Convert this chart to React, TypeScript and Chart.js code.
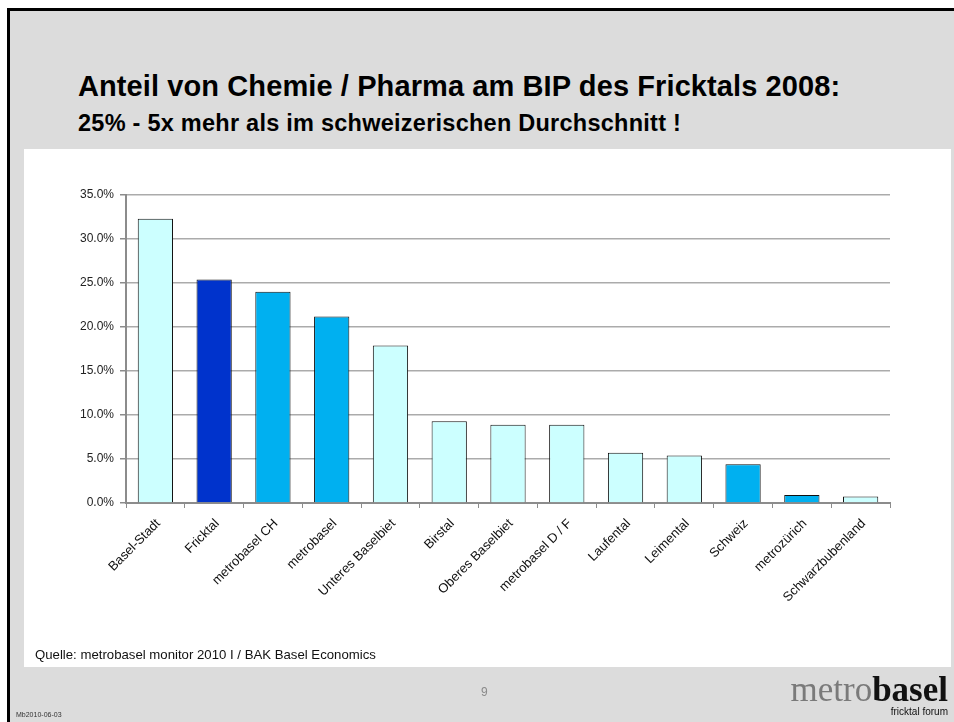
import React, { useEffect, useRef } from "react";
import { Chart, registerables } from "chart.js";

Chart.register(...registerables);

const categories = [
  "Basel-Stadt",
  "Fricktal",
  "metrobasel CH",
  "metrobasel",
  "Unteres Baselbiet",
  "Birstal",
  "Oberes Baselbiet",
  "metrobasel D / F",
  "Laufental",
  "Leimental",
  "Schweiz",
  "metrozürich",
  "Schwarzbubenland",
];
const shareValues = [32.3, 25.4, 24.0, 21.2, 17.9, 9.3, 8.9, 8.9, 5.7, 5.4, 4.4, 0.9, 0.75];
const barColors = [
  "#CCFFFF",
  "#0033CC",
  "#00B0F0",
  "#00B0F0",
  "#CCFFFF",
  "#CCFFFF",
  "#CCFFFF",
  "#CCFFFF",
  "#CCFFFF",
  "#CCFFFF",
  "#00B0F0",
  "#00B0F0",
  "#CCFFFF",
];
const yTickStep = 5;
const yMax = 35;

const titleText = "Anteil von Chemie / Pharma am BIP des Fricktals 2008:";
const subtitleText = "25% - 5x mehr als im schweizerischen Durchschnitt !";
const sourceText = "Quelle: metrobasel monitor 2010 I / BAK Basel Economics";

const SANS = "'Liberation Sans', Arial, sans-serif";

export default function App() {
  const canvasRef = useRef<HTMLCanvasElement | null>(null);

  useEffect(() => {
    const canvas = canvasRef.current;
    if (!canvas) return;
    const chart = new Chart(canvas, {
      type: "bar",
      data: {
        labels: categories,
        datasets: [
          {
            data: shareValues,
            backgroundColor: barColors,
            borderColor: "#111111",
            borderWidth: 1,
            barPercentage: 0.6,
            categoryPercentage: 1,
          },
        ],
      },
      options: {
        animation: false,
        responsive: false,
        devicePixelRatio: 1,
        layout: { padding: { left: 66, right: 64, top: 195, bottom: 69 } },
        plugins: {
          legend: { display: false },
          tooltip: { enabled: false },
          title: { display: false },
        },
        scales: {
          x: {
            grid: {
              display: true,
              drawOnChartArea: false,
              drawTicks: true,
              tickLength: 5,
              color: "#8C8C8C",
              offset: true,
            },
            border: { display: true, color: "#8C8C8C", width: 2 },
            ticks: {
              minRotation: 45,
              maxRotation: 45,
              autoSkip: false,
              padding: 8,
              labelOffset: 3,
              color: "#111",
              font: { family: SANS, size: 13 },
            },
            afterFit: (scale: any) => {
              scale.height = 150;
            },
          },
          y: {
            min: 0,
            max: yMax,
            grid: {
              color: "#ABABAB",
              lineWidth: 1.5,
              tickLength: 6,
              tickColor: "#8C8C8C",
            },
            border: { display: true, color: "#8C8C8C", width: 2 },
            ticks: {
              stepSize: yTickStep,
              padding: 6,
              color: "#222",
              font: { family: SANS, size: 12 },
              callback: (v: any) => Number(v).toFixed(1) + "%",
            },
            afterFit: (scale: any) => {
              scale.width = 60;
            },
          },
        },
      },
    });
    return () => chart.destroy();
  }, []);

  return (
    <div
      style={{
        position: "absolute",
        left: 0,
        top: 0,
        width: 954,
        height: 722,
        background: "#FFFFFF",
        overflow: "hidden",
        fontFamily: SANS,
      }}
    >
      <div
        style={{
          position: "absolute",
          left: 7,
          top: 8,
          width: 947,
          height: 714,
          background: "#DCDCDC",
          borderTop: "3px solid #000",
          borderLeft: "3px solid #000",
          boxSizing: "border-box",
        }}
      />
      <div
        style={{
          position: "absolute",
          left: 24,
          top: 149,
          width: 927,
          height: 518,
          background: "#FFFFFF",
        }}
      />
      <div
        style={{
          position: "absolute",
          left: 78,
          top: 72,
          fontSize: 29,
          lineHeight: 1,
          fontWeight: "bold",
          color: "#000",
          whiteSpace: "nowrap",
          letterSpacing: 0.1,
        }}
      >
        {titleText}
      </div>
      <div
        style={{
          position: "absolute",
          left: 78,
          top: 112,
          fontSize: 23.5,
          lineHeight: 1,
          fontWeight: "bold",
          color: "#000",
          whiteSpace: "nowrap",
          letterSpacing: 0.25,
        }}
      >
        {subtitleText}
      </div>
      <canvas
        ref={canvasRef}
        width={954}
        height={722}
        style={{ position: "absolute", left: 0, top: 0, width: 954, height: 722 }}
      />
      <div
        style={{
          position: "absolute",
          left: 35,
          top: 648,
          fontSize: 13.2,
          lineHeight: 1,
          color: "#111",
          whiteSpace: "nowrap",
        }}
      >
        {sourceText}
      </div>
      <div
        style={{
          position: "absolute",
          left: 481,
          top: 686,
          fontSize: 12,
          lineHeight: 1,
          color: "#8A8A8A",
        }}
      >
        9
      </div>
      <div
        style={{
          position: "absolute",
          left: 16,
          top: 711,
          fontSize: 7,
          lineHeight: 1,
          color: "#333",
          whiteSpace: "nowrap",
        }}
      >
        Mb2010-06-03
      </div>
      <div
        style={{
          position: "absolute",
          right: 6,
          top: 672,
          fontSize: 35,
          lineHeight: 1,
          fontFamily: "'Liberation Serif', 'Times New Roman', serif",
          whiteSpace: "nowrap",
        }}
      >
        <span style={{ color: "#7A7A7A" }}>metro</span>
        <span style={{ color: "#111", fontWeight: "bold" }}>basel</span>
      </div>
      <div
        style={{
          position: "absolute",
          right: 6,
          top: 707,
          fontSize: 10,
          lineHeight: 1,
          color: "#111",
          whiteSpace: "nowrap",
        }}
      >
        fricktal forum
      </div>
    </div>
  );
}
